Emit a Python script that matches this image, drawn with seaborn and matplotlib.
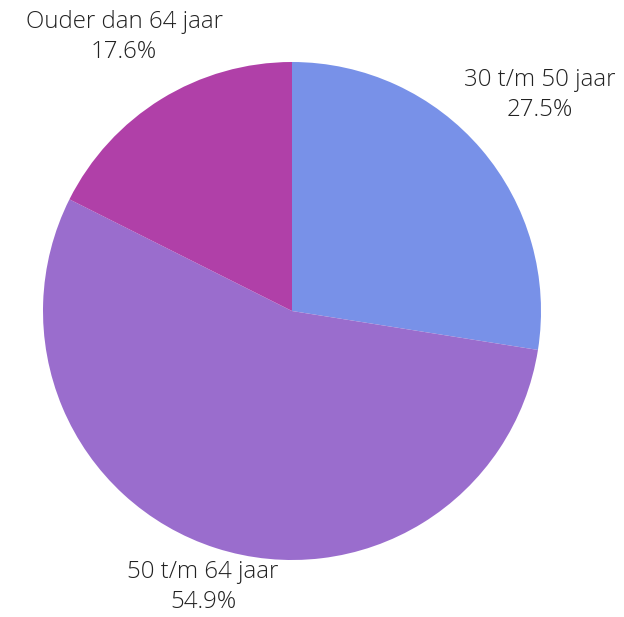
import matplotlib
matplotlib.use("Agg")
import matplotlib.pyplot as plt
import seaborn as sns

categories = ["30 t/m 50 jaar", "50 t/m 64 jaar", "Ouder dan 64 jaar"]
values = [27.5, 54.9, 17.6]
colors = ["#7891E8", "#9A6DCD", "#B040A8"]

sns.set_theme(style="white")
plt.rcParams['font.family'] = ['Open Sans', 'DejaVu Sans']

fig = plt.figure(figsize=(6.24, 6.17), dpi=100)
ax = fig.add_axes([0, 0, 1, 1])
ax.set_xlim(0, 624)
ax.set_ylim(0, 617)
ax.set_aspect('equal')
ax.axis('off')

ax.pie(values, colors=sns.color_palette(colors), startangle=90, counterclock=False,
       center=(292, 306), radius=249, wedgeprops=dict(linewidth=0))
ax.set_xlim(0, 624)
ax.set_ylim(0, 617)

label_pos = [(540, 522), (203, 30), (124, 580)]
for cat, v, (x, y) in zip(categories, values, label_pos):
    ax.text(x, y, f"{cat}\n{v:.1f}%", ha='center', va='center', fontsize=17.3,
            fontweight='light', color='#222222', linespacing=1.3)

fig.savefig("out.png", dpi=100)
